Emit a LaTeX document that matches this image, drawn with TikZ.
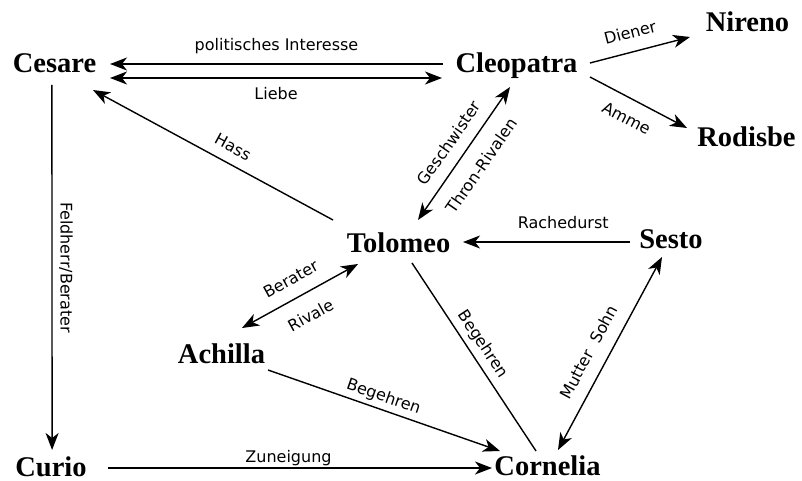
\documentclass[tikz,border=0pt]{standalone}
\usepackage{fontspec}
\usepackage{tikz}
\usetikzlibrary{arrows.meta}
\newfontfamily\rolefont{Liberation Serif}
\newfontfamily\tiefont{DejaVu Sans}

\begin{document}
\begin{tikzpicture}[x=1pt,y=1pt,
  >={Stealth[length=17pt,width=13pt,inset=5pt]},
  person/.style={font=\rolefont\bfseries\fontsize{28.5}{30}\selectfont,inner sep=0pt,anchor=base},
  tie/.style={font=\tiefont\fontsize{16}{18}\selectfont,inner sep=0pt,sloped},
  link/.style={black,line width=1.4pt}]

\useasboundingbox (0,0) rectangle (802,480);

\node[person] (cesare) at (54.5,407) {Cesare};
\node[person] (cleopatra) at (516.5,407) {Cleopatra};
\node[person] (nireno) at (747.5,448) {Nireno};
\node[person] (rodisbe) at (746.5,333) {Rodisbe};
\node[person] (tolomeo) at (398.5,228) {Tolomeo};
\node[person] (sesto) at (671,232) {Sesto};
\node[person] (achilla) at (221.5,117) {Achilla};
\node[person] (curio) at (51,4) {Curio};
\node[person] (cornelia) at (547.5,5) {Cornelia};

\draw[link,->] ([shift={(-73.5,9)}]cleopatra.base) -- ([shift={(55.5,9)}]cesare.base) node[tie,midway,above=9pt] {politisches Interesse};
\draw[link,<->] ([shift={(55.5,-5)}]cesare.base) -- ([shift={(-74.5,-5)}]cleopatra.base) node[tie,midway,below=8.5pt] {Liebe};
\draw[link,->] ([shift={(73.5,10)}]cleopatra.base) -- ([shift={(-57.5,-5)}]nireno.base) node[tie,pos=.45,above=12.5pt] {Diener};
\draw[link,->] ([shift={(73.5,-4)}]cleopatra.base) -- ([shift={(-59.5,19)}]rodisbe.base) node[tie,pos=.47,below=13pt] {Amme};
\draw[link,->] ([shift={(-65.5,32)}]tolomeo.base) -- ([shift={(38.5,-17)}]cesare.base) node[tie,pos=.45,above=10pt] {Hass};
\draw[link,<->] ([shift={(19.5,32)}]tolomeo.base) -- ([shift={(-6.5,-14)}]cleopatra.base)
  node[tie,pos=.5,above=11.5pt] {Geschwister} node[tie,pos=.5,below=14.5pt] {Thron-Rivalen};
\draw[link,->] ([shift={(-41,6)}]sesto.base) -- ([shift={(64.5,10)}]tolomeo.base) node[tie,pos=.4,above=12.5pt] {Rachedurst};
\draw[link,<->] ([shift={(20.5,35)}]achilla.base) -- ([shift={(-40.5,-12)}]tolomeo.base)
  node[tie,pos=.5,above=12.5pt] {Berater} node[tie,pos=.5,below=15pt] {Rivale};
\draw[link,->] ([shift={(46.5,-7)}]achilla.base) -- ([shift={(-47.5,24)}]cornelia.base) node[tie,pos=.48,above=4pt] {Begehren};
\draw[link] ([shift={(13.5,-11)}]tolomeo.base) -- ([shift={(-11.5,24)}]cornelia.base) node[tie,pos=.475,above=5.5pt] {Begehren};
\draw[link,<->] ([shift={(10.5,25)}]cornelia.base) -- ([shift={(-9,-9)}]sesto.base) node[tie,pos=.46,above=12.5pt] {Mutter\ \ Sohn};
\draw[link,->] ([shift={(-2.6,-12)}]cesare.base) -- ([shift={(1.1,26)}]curio.base) node[tie,midway,above=6.5pt] {Feldherr/Berater};
\draw[link,->] ([shift={(57,8)}]curio.base) -- ([shift={(-55.5,7)}]cornelia.base) node[tie,pos=.47,above=1.5pt] {Zuneigung};

\end{tikzpicture}
\end{document}
